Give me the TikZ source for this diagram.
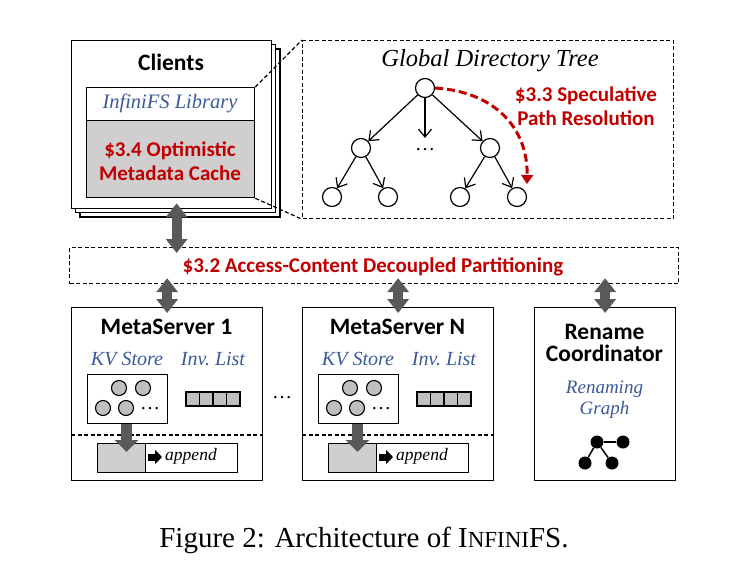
\documentclass[tikz,border=0pt]{standalone}
\usepackage{fontspec}
\setmainfont{Liberation Serif}
\setsansfont{Carlito}
\usetikzlibrary{arrows.meta, positioning}

\definecolor{secred}{RGB}{192,0,0}
\definecolor{libblue}{RGB}{59,89,152}
\definecolor{arrowgray}{RGB}{89,89,89}
\definecolor{cachegray}{RGB}{208,206,206}
\definecolor{ballgray}{RGB}{191,191,191}

\tikzset{
  box/.style={draw, line width=1.3pt, inner sep=0pt},
  headtext/.style={font=\sffamily\bfseries\fontsize{23.5}{24}\selectfont, align=center},
  sectext/.style={text=secred, font=\sffamily\bfseries\fontsize{21}{24}\selectfont, align=center},
  desctext/.style={text=libblue, font=\itshape\fontsize{20.5}{21}\selectfont, align=center},
  treenode/.style={circle, draw, line width=1.2pt, minimum size=19pt, inner sep=0pt},
  ball/.style={circle, draw, fill=ballgray, line width=1.1pt, minimum size=15pt, inner sep=0pt},
  graphdot/.style={circle, fill=black, minimum size=13pt, inner sep=0pt},
  bigarrow/.style={arrowgray, line width=10pt, shorten <=-6pt, shorten >=-6pt,
    {Triangle[width=21pt,length=14pt]}-{Triangle[width=21pt,length=14pt]}},
  downarrow/.style={arrowgray, line width=11pt, -{Triangle[width=23pt,length=12pt]}},
  treearrow/.style={line width=1.2pt, -{Straight Barb[length=8pt,width=13pt]}},
  zoomline/.style={dash pattern=on 4pt off 2.5pt, line width=1.2pt},
}

\begin{document}
\begin{tikzpicture}[x=1pt, y=-1pt]
  \useasboundingbox (0,0) rectangle (732,566);

  % clients stack
  \foreach \s in {9,4.5}
    \draw[line width=1.3pt, fill=white] (71+\s,40+\s) rectangle ++(200,168);
  \node[box, fill=white, minimum width=200pt, minimum height=168pt, anchor=north west] (cli) at (71,40) {};
  \node[headtext] at (171,62) {Clients};
  \node[box, minimum width=168pt, minimum height=33pt, anchor=north west] (lib) at (86,87) {};
  \node[desctext] at (170,103) {InfiniFS Library};
  \node[box, fill=cachegray, minimum width=168pt, minimum height=77pt, anchor=north west] (cache) at (86,120) {};
  \node[sectext] at (170,161) {\$3.4 Optimistic\\Metadata Cache};

  % directory tree
  \node[draw, zoomline, minimum width=371pt, minimum height=178pt, anchor=north west] (tree) at (302,40) {};
  \draw[zoomline] (lib.north east) -- (tree.north west);
  \draw[zoomline] (cache.south east) -- (tree.south west);
  \node[font=\itshape\fontsize{24.5}{25}\selectfont] at (490,61) {Global Directory Tree};
  \node[treenode] (root) at (425,88) {};
  \node[treenode] (l) at (361,148) {};
  \node[treenode] (r) at (490,148) {};
  \node[treenode] (ll) at (332,197) {};
  \node[treenode] (lr) at (388,197) {};
  \node[treenode] (rl) at (460,197) {};
  \node[treenode] (rr) at (517,197) {};
  \coordinate (mid) at (425,138);
  \node[font=\fontsize{20}{20}\selectfont] at (425,150) {\dots};
  \draw[treearrow] (root) -- (l);
  \draw[treearrow] (root) -- (mid);
  \draw[treearrow] (root) -- (r);
  \draw[treearrow] (l) -- (ll);
  \draw[treearrow] (l) -- (lr);
  \draw[treearrow] (r) -- (rl);
  \draw[treearrow] (r) -- (rr);
  \coordinate (specend) at (527,184);
  \draw[secred, line width=3pt, dash pattern=on 8pt off 4pt, -{Triangle[width=12pt,length=9pt]}] (root.east) .. controls (497,92) and (528,130) .. (specend);
  \node[sectext] at (586,106) {\$3.3 Speculative\\Path Resolution};

  % partitioning
  \node[draw, zoomline, minimum width=609pt, minimum height=36pt, anchor=north west] (part) at (69,247) {};
  \node[sectext] at (373,267) {\$3.2 Access-Content Decoupled Partitioning};
  \draw[bigarrow] ([xshift=5pt]cli.south) -- ([xshift=5pt]cli.south |- part.north);

  % metaservers
  \foreach \dx/\n/\name in {0/1/MetaServer 1, 231/N/MetaServer N}{
    \begin{scope}[xshift=\dx]
      \node[box, minimum width=191pt, minimum height=173pt, anchor=north west] (ms\n) at (71,307) {};
      \node[headtext] at (166.5,327) {\name};
      \node[desctext, font=\itshape\fontsize{20}{21}\selectfont] at (127,359) {KV Store};
      \node[desctext, font=\itshape\fontsize{20}{21}\selectfont] at (213,359) {Inv.\ List};
      \node[box, minimum width=80pt, minimum height=49pt, anchor=north west] (kv\n) at (87,374) {};
      \node[ball] at (119,388) {};
      \node[ball] at (143,388) {};
      \node[ball] at (103,408) {};
      \node[ball] at (126,408) {};
      \node[font=\fontsize{20}{20}\selectfont] at (150,409) {\dots};
      \foreach \i in {0,...,3}
        \draw[line width=1.1pt, fill=ballgray] (186+13.5*\i,392) rectangle ++(13.5,14);
      \draw[zoomline] (71,435) -- (262,435);
      \node[box, fill=cachegray, minimum width=48pt, minimum height=29pt, anchor=north west] (log\n) at (97,443) {};
      \node[box, minimum width=92pt, minimum height=29pt, anchor=north west] (app\n) at (145,443) {};
      \coordinate (tip\n) at (126.5,452);
      \draw[downarrow] (kv\n.south -| tip\n) -- (tip\n);
      \draw[line width=7pt, -{Triangle[width=14pt,length=7pt]}] (148,457) -- (162,457);
      \node[font=\itshape\fontsize{17.5}{18}\selectfont] at (191,456) {append};
    \end{scope}
    \draw[bigarrow] (part.south -| ms\n.north) -- (ms\n.north);
  }
  \node[font=\fontsize{20}{20}\selectfont] at (282,398) {\dots};

  % rename coordinator
  \node[box, minimum width=141pt, minimum height=173pt, anchor=north west] (rc) at (534,307) {};
  \node[headtext, font=\sffamily\bfseries\fontsize{23.5}{22.5}\selectfont] at (604.5,343) {Rename\\Coordinator};
  \node[desctext, font=\itshape\fontsize{19}{21}\selectfont] at (604.5,400) {Renaming\\Graph};
  \node[graphdot] (g1) at (597,442) {};
  \node[graphdot] (g2) at (623,442) {};
  \node[graphdot] (g3) at (585,463) {};
  \node[graphdot] (g4) at (612,463) {};
  \draw[line width=1.5pt] (g1) -- (g2);
  \draw[line width=1.5pt] (g1) -- (g3);
  \draw[line width=1.5pt] (g1) -- (g4);
  \draw[bigarrow] (part.south -| rc.north) -- (rc.north);

  % caption
  \node[font=\fontsize{29}{30}\selectfont] (cap) at (364,540) {Figure 2: Architecture of I{\fontsize{23}{24}\selectfont NFINI}FS.};
\end{tikzpicture}
\end{document}
